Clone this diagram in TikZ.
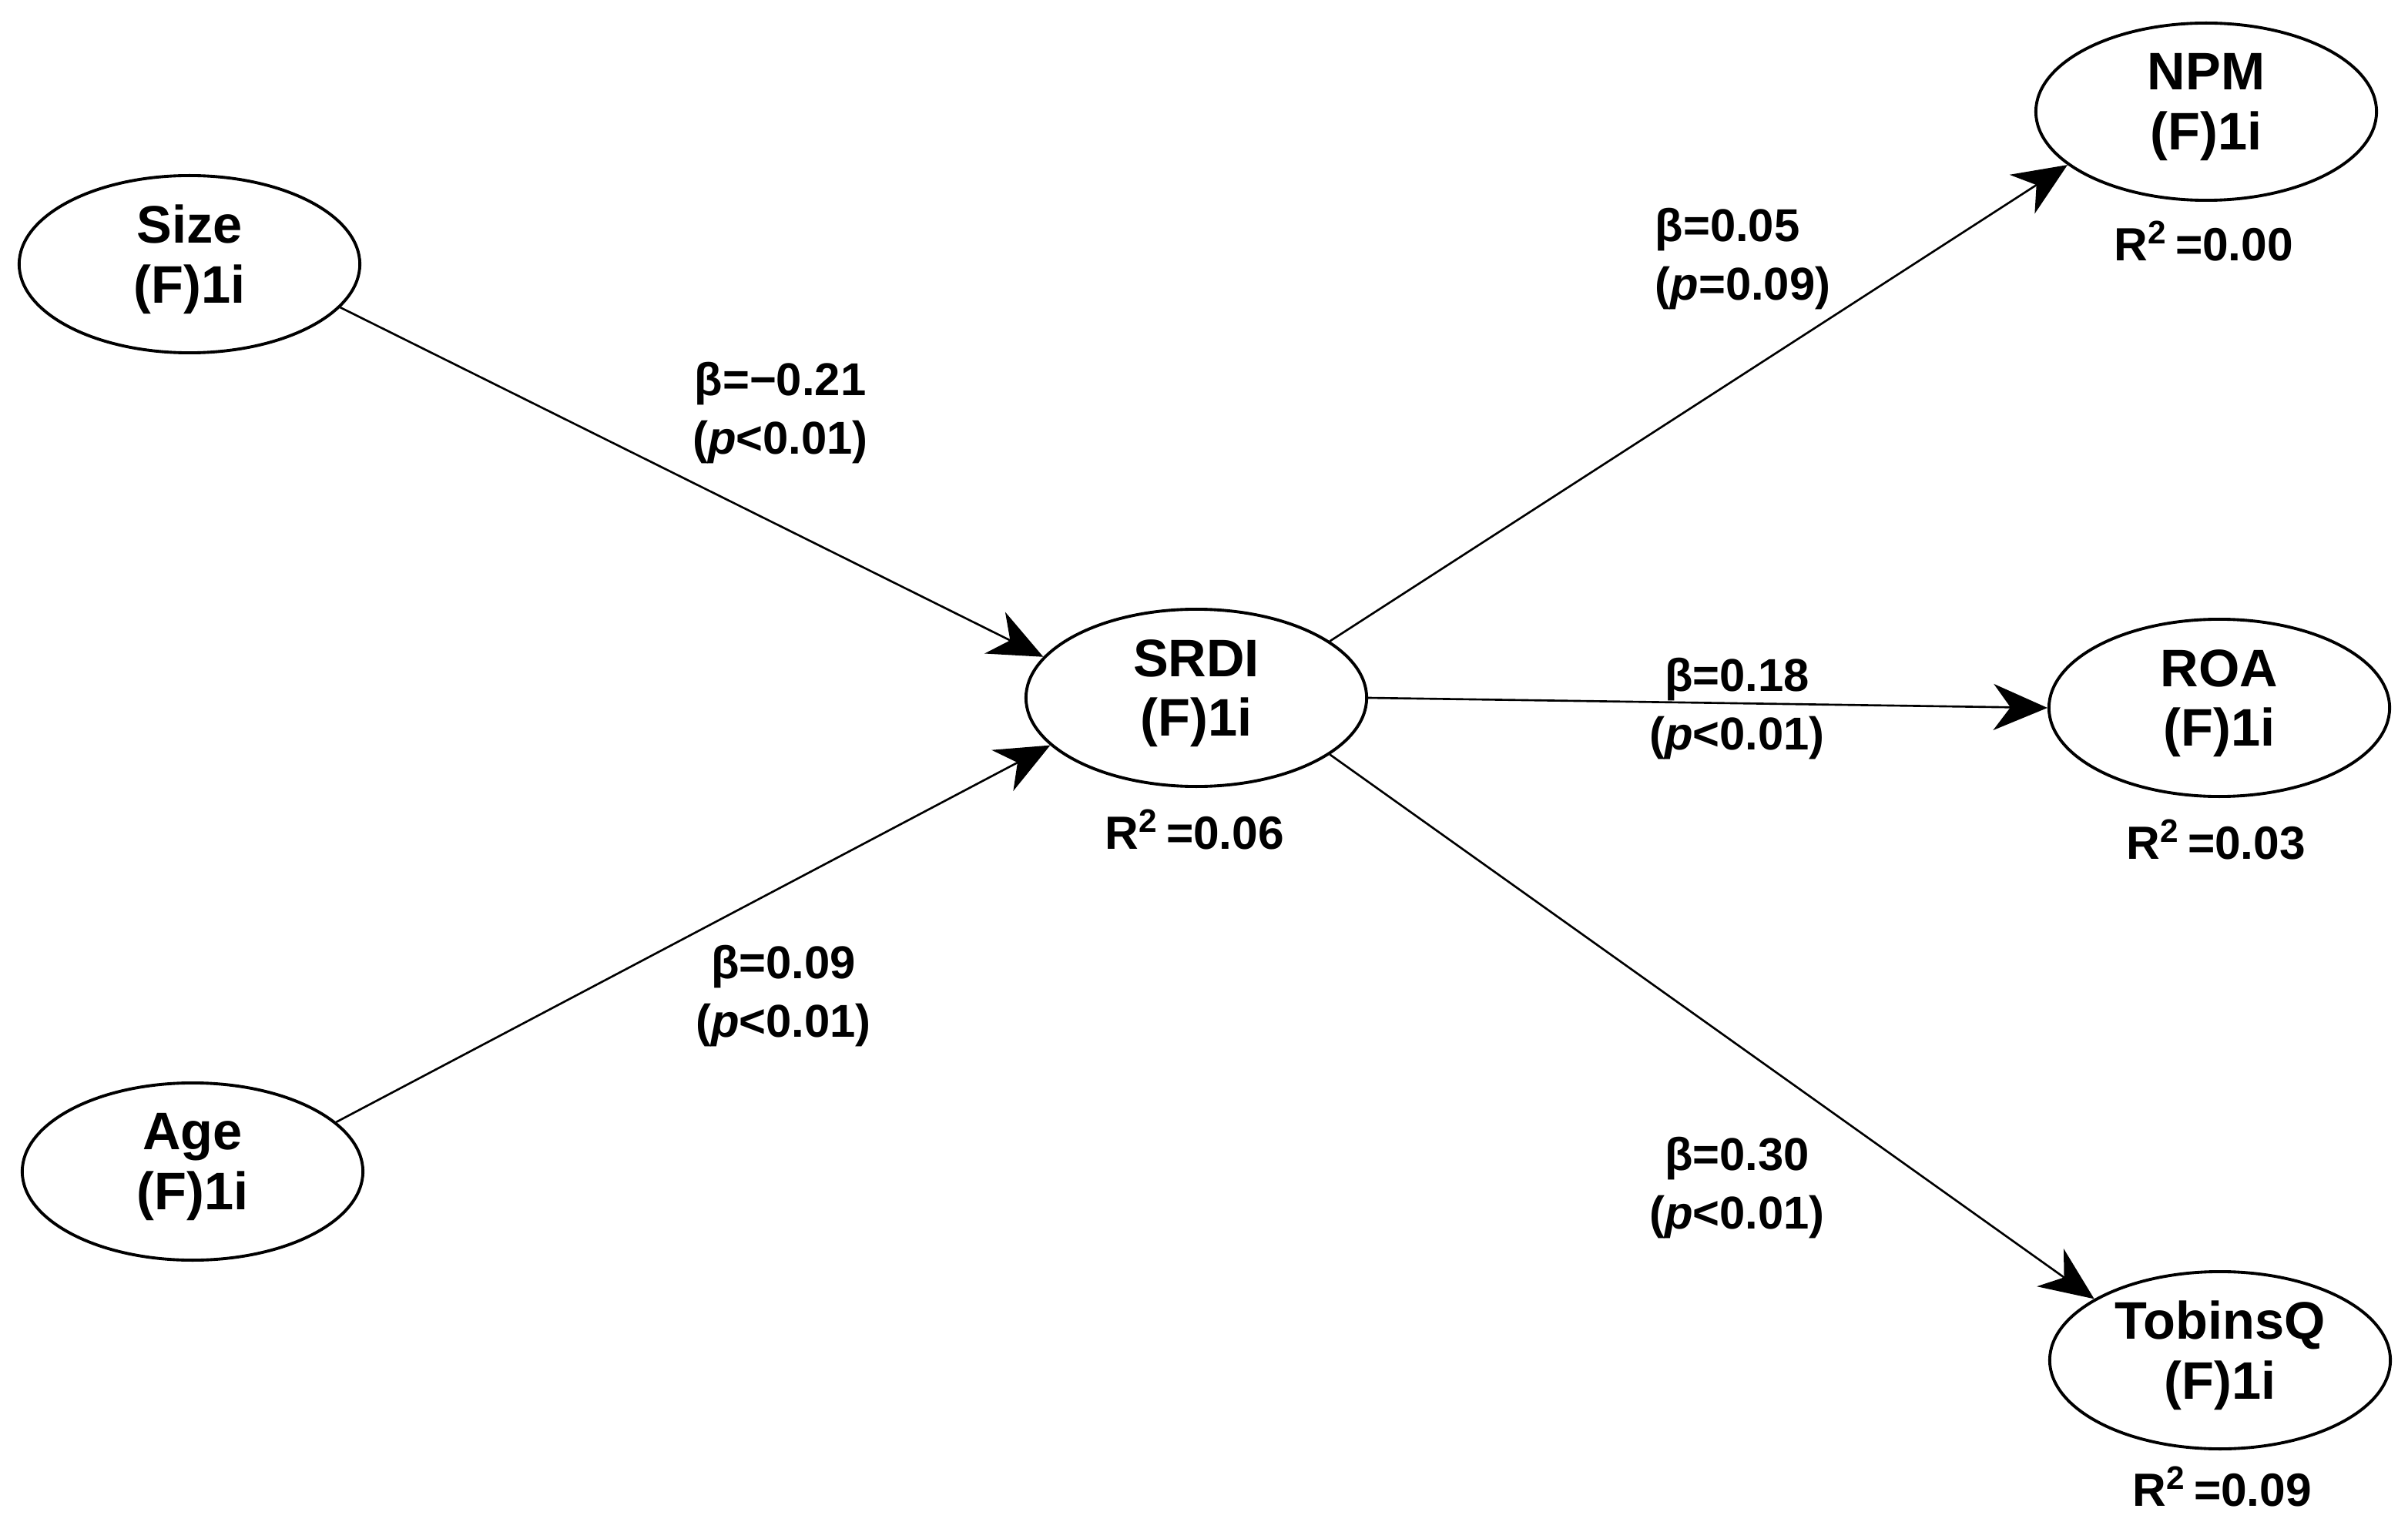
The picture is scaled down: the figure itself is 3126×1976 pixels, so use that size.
\documentclass[tikz,border=0pt]{standalone}
\usepackage{fontspec}
\setmainfont{Liberation Sans}
\usetikzlibrary{shapes.geometric,arrows.meta}
\begin{document}
\begin{tikzpicture}[x=0.01cm,y=-0.01cm,
  lat/.style={ellipse,draw,line width=1.1pt,minimum width=4.42cm,minimum height=2.3cm,inner sep=0pt,align=center,text depth=7.5pt,font=\fontsize{19.5}{22}\selectfont\bfseries},
  conn/.style={line width=0.75pt,-{Stealth[length=0.7cm,width=0.6cm,inset=0.22cm]}},
  coef/.style={align=center,font=\fontsize{17}{21.6}\selectfont\bfseries,inner sep=0pt},
  rsq/.style={font=\fontsize{17.2}{19}\selectfont\bfseries,inner sep=0pt}]
\useasboundingbox (0,0) rectangle (3126,1976);
\fill[white] (0,0) rectangle (3126,1976);

\node[lat] (size) at (246,343) {Size\\(F)1i};
\node[lat] (age) at (250,1521) {Age\\(F)1i};
\node[lat] (srdi) at (1553,906) {SRDI\\(F)1i};
\node[lat] (npm) at (2864,145) {NPM\\(F)1i};
\node[lat] (roa) at (2881,919) {ROA\\(F)1i};
\node[lat] (tq) at (2882,1766) {TobinsQ\\(F)1i};

\draw[conn] (size.-16) -- (srdi.165);
\draw[conn] (age.19) -- (srdi.198);
\draw[conn] (srdi.23) -- (npm.201);
\draw[conn] (srdi.0) -- (roa.180);
\draw[conn] (srdi.-23) -- (tq.154);

\node[coef] (c1) at (1013,536) {β=−0.21\\(\textit{p}<0.01)};
\node[coef] (c2) at (1017,1293) {β=0.09\\(\textit{p}<0.01)};
\node[coef,align=left,anchor=west] (c3) at (2148,336) {β=0.05\\(\textit{p}=0.09)};
\node[coef] (c4) at (2255,920) {β=0.18\\(\textit{p}<0.01)};
\node[coef] (c5) at (2255,1542) {β=0.30\\(\textit{p}<0.01)};

\node[rsq] (r1) at (1551,1077) {R\textsuperscript{2}\,=0.06};
\node[rsq] (r2) at (2861,313) {R\textsuperscript{2}\,=0.00};
\node[rsq] (r3) at (2877,1090) {R\textsuperscript{2}\,=0.03};
\node[rsq] (r4) at (2885,1930) {R\textsuperscript{2}\,=0.09};
\end{tikzpicture}
\end{document}
